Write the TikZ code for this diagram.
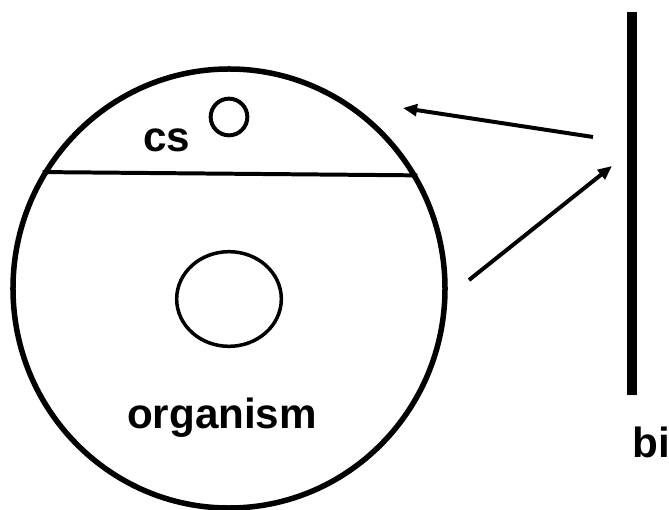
\documentclass[tikz,border=0pt]{standalone}
\usepackage{fontspec}
\setmainfont{Liberation Sans}
\usetikzlibrary{arrows.meta,shapes.geometric}
\tikzset{%
  cellwall/.style={draw,ellipse,line width=4.7pt,inner sep=0pt,minimum width=12.96cm,minimum height=13.17cm},
  organelle/.style={draw,ellipse,line width=3pt,inner sep=0pt},
  bigtext/.style={font=\fontsize{36}{40}\selectfont\bfseries,inner sep=0pt},
  arrow/.style={-{Triangle[length=12pt,width=10pt]}, line width=3.4pt}%
}
\begin{document}
\begin{tikzpicture}[x=0.03cm,y=-0.03cm]
\useasboundingbox (0,0) rectangle (669,510);

% Nodes
\node[cellwall] (cell) at (229,288.5) {};
\node[organelle, minimum width=1.1cm, minimum height=1.1cm, line width=3.4pt] (vesicle) at (229,117) {};
\node[organelle, minimum width=3.14cm, minimum height=2.84cm] (nucleus) at (229,299) {};
\node[bigtext, anchor=base] (cs) at (167,152) {cs};
\node[bigtext, anchor=base] (organism) at (222,428) {organism};
\node[bigtext, anchor=base west] (bi) at (632,457) {bi};

% Division line and barrier
\draw[line width=3.4pt] (cell.148.15) -- (cell.31.85);
\coordinate (bartop) at (632,12);
\coordinate (barbottom) at (632,395);
\draw[line width=7.7pt] (bartop) -- (barbottom);

% Arrows
\coordinate (outfrom) at (593,137);
\coordinate (outto) at (403,108);
\coordinate (infrom) at (469,280);
\coordinate (into) at (612,166);
\draw[arrow] (outfrom) -- (outto);
\draw[arrow] (infrom) -- (into);

\end{tikzpicture}
\end{document}
